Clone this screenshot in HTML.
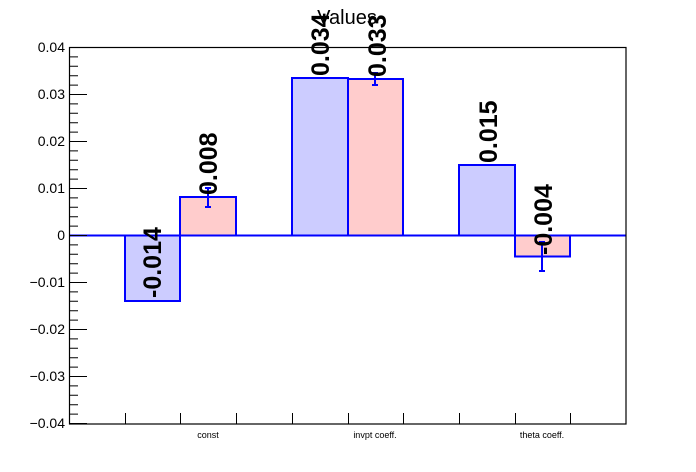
<!DOCTYPE html>
<html><head><meta charset="utf-8"><style>body{margin:0;background:#fff}svg{display:block}</style></head><body>
<svg width="696" height="472" xmlns="http://www.w3.org/2000/svg" font-family="Liberation Sans, sans-serif">
<rect width="696" height="472" fill="#fff"/>
<g stroke="#00f" stroke-width="2">
<rect x="125" y="235.5" width="55" height="65.5" fill="#ccccff"/>
<rect x="180" y="197" width="56" height="38.5" fill="#ffcccc"/>
<rect x="292" y="78" width="56" height="157.5" fill="#ccccff"/>
<rect x="348" y="79" width="55" height="156.5" fill="#ffcccc"/>
<rect x="459" y="165" width="56" height="70.5" fill="#ccccff"/>
<rect x="515" y="235.5" width="55" height="21" fill="#ffcccc"/>
<line x1="70" y1="235.5" x2="626" y2="235.5"/>
<line x1="208" y1="188" x2="208" y2="207"/><line x1="205" y1="188" x2="211" y2="188"/><line x1="205" y1="207" x2="211" y2="207"/>
<line x1="375" y1="73" x2="375" y2="85"/><line x1="372" y1="73" x2="378" y2="73"/><line x1="372" y1="85" x2="378" y2="85"/>
<line x1="542" y1="242" x2="542" y2="271"/><line x1="539" y1="242" x2="545" y2="242"/><line x1="539" y1="271" x2="545" y2="271"/>
</g>
<g font-weight="bold" font-size="25" fill="#000">
<text transform="translate(161,298) rotate(-90)">-0.014</text>
<text transform="translate(217,195) rotate(-90)">0.008</text>
<text transform="translate(329,76) rotate(-90)">0.034</text>
<text transform="translate(386,77) rotate(-90)">0.033</text>
<text transform="translate(497,163) rotate(-90)">0.015</text>
<text transform="translate(552,255) rotate(-90)">-0.004</text>
</g>
<rect x="69.5" y="47.5" width="556.5" height="376.5" fill="none" stroke="#000" stroke-width="1.2"/>
<g stroke="#000" stroke-width="1">
<path d="M70 47.5h17M70 94.5h17M70 141.5h17M70 188.5h17M70 235.5h17M70 282.5h17M70 329.5h17M70 376.5h17M70 423.5h17"/>
<path d="M70 56.9h8M70 66.3h8M70 75.7h8M70 85.1h8M70 103.9h8M70 113.3h8M70 122.7h8M70 132.1h8M70 150.9h8M70 160.3h8M70 169.7h8M70 179.1h8M70 197.9h8M70 207.3h8M70 216.7h8M70 226.1h8M70 244.9h8M70 254.3h8M70 263.7h8M70 273.1h8M70 291.9h8M70 301.3h8M70 310.7h8M70 320.1h8M70 338.9h8M70 348.3h8M70 357.7h8M70 367.1h8M70 385.9h8M70 395.3h8M70 404.7h8M70 414.1h8"/>
<path d="M125.5 424v-11M180.5 424v-11M236.5 424v-11M292.5 424v-11M348.5 424v-11M403.5 424v-11M459.5 424v-11M515.5 424v-11M570.5 424v-11"/>
</g>
<g font-size="14" text-anchor="end" fill="#000">
<text x="65" y="52">0.04</text><text x="65" y="99">0.03</text><text x="65" y="146">0.02</text><text x="65" y="193">0.01</text><text x="65" y="240">0</text><text x="65" y="287">−0.01</text><text x="65" y="334">−0.02</text><text x="65" y="381">−0.03</text><text x="65" y="428">−0.04</text>
</g>
<g font-size="9" text-anchor="middle" fill="#000">
<text x="208" y="438">const</text><text x="375" y="438">invpt coeff.</text><text x="542" y="438">theta coeff.</text>
</g>
<text x="347" y="24" font-size="20" text-anchor="middle">Values</text>
</svg>
</body></html>
